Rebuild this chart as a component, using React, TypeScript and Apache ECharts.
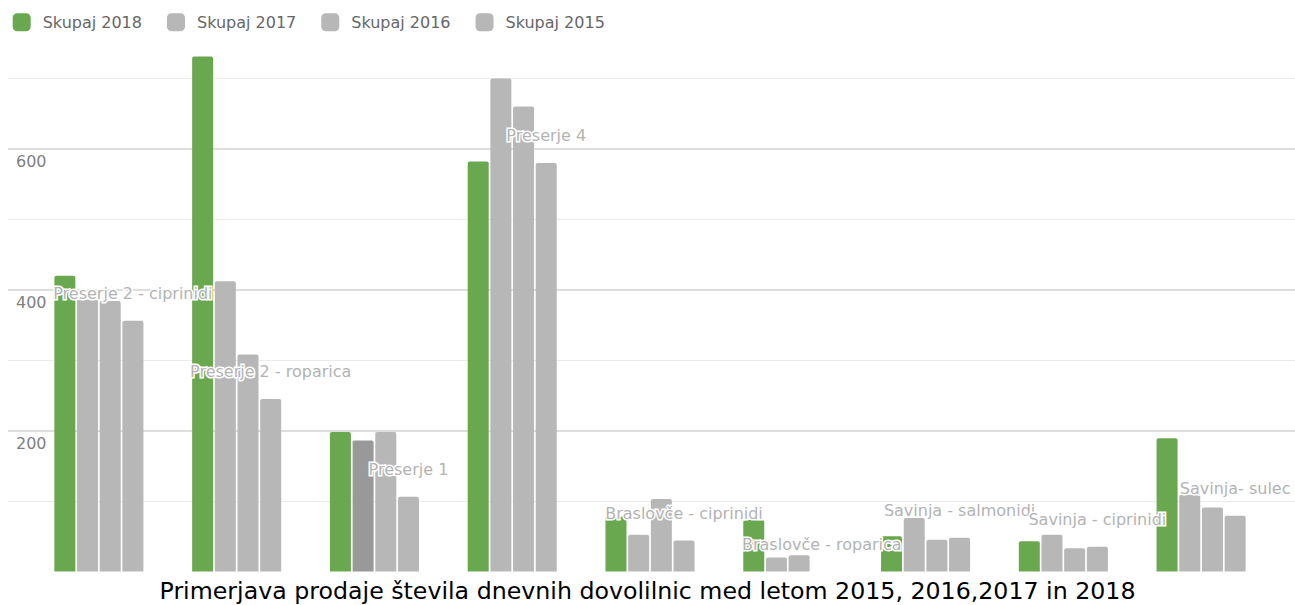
import React, { useEffect, useRef } from "react";
import * as echarts from "echarts";

const categories = [
  "Preserje 2 - ciprinidi",
  "Preserje 2 - roparica",
  "Preserje 1",
  "Preserje 4",
  "Braslovče - ciprinidi",
  "Braslovče - roparica",
  "Savinja - salmonidi",
  "Savinja - ciprinidi",
  "Savinja- sulec",
];
const seriesNames = ["Skupaj 2018", "Skupaj 2017", "Skupaj 2016", "Skupaj 2015"];
const s2018 = [420, 731, 198, 582, 78, 73, 50, 43, 189];
const s2017 = [386, 412, 186, 700, 52, 20, 76, 52, 109];
const s2016 = [384, 308, 198, 660, 103, 23, 45, 33, 91];
const s2015 = [356, 245, 106, 580, 44, 0, 48, 35, 79];
const yTickLabels = [200, 400, 600];
const chartTitle =
  "Primerjava prodaje števila dnevnih dovolilnic med letom 2015, 2016,2017 in 2018";

const FONT = "DejaVu Sans";
const GREEN = "#6aa84f";
const GRAY = "#b7b7b7";
const HOVER_GRAY = "#999999";
const highlighted = { series: 1, index: 2 };

export default function App() {
  const ref = useRef<HTMLDivElement>(null);
  useEffect(() => {
    if (!ref.current) return;
    const chart = echarts.init(ref.current, undefined, { renderer: "svg" });
    const values = [s2018, s2017, s2016, s2015];
    const colors = [GREEN, GRAY, GRAY, GRAY];
    const top = 8;
    const bottom = 33.5;
    const series: any[] = values.map((vals, si) => ({
      name: seriesNames[si],
      type: "bar",
      xAxisIndex: 1,
      yAxisIndex: 2,
      barWidth: 21,
      barGap: "8%",
      itemStyle: { color: colors[si], borderRadius: [2, 2, 0, 0] },
      data: vals.map((v, i) =>
        si === highlighted.series && i === highlighted.index
          ? { value: v, itemStyle: { color: HOVER_GRAY } }
          : v
      ),
      label:
        si === 3
          ? {
              show: true,
              position: "top",
              distance: 19,
              formatter: "{b}",
              fontFamily: FONT,
              fontSize: 16,
              color: "#b3b3b3",
              textBorderColor: "#ffffff",
              textBorderWidth: 3,
            }
          : { show: false },
    }));
    chart.setOption({
      animation: false,
      title: {
        text: chartTitle,
        left: "center",
        top: 579,
        padding: 0,
        textStyle: { fontFamily: FONT, fontSize: 23.7, color: "#000", fontWeight: "normal" },
      },
      legend: {
        left: 7.7,
        top: 8.3,
        itemWidth: 18,
        itemHeight: 18,
        itemGap: 25,
        icon: "roundRect",
        data: seriesNames,
        textStyle: { fontFamily: FONT, fontSize: 16, color: "#666", padding: [0, 0, 0, 7] },
      },
      grid: [
        { left: 8, right: 0, top, bottom },
        { left: 30, right: 25, top, bottom },
      ],
      xAxis: [
        { gridIndex: 0, type: "value", show: false, min: 0, max: 1 },
        {
          gridIndex: 1,
          type: "category",
          data: categories,
          axisLine: { show: false },
          axisTick: { show: false },
          axisLabel: { show: false },
        },
      ],
      yAxis: [
        {
          gridIndex: 0,
          type: "value",
          min: 0,
          max: 800,
          interval: 200,
          axisLine: { show: false },
          axisTick: { show: false },
          axisLabel: {
            inside: true,
            margin: 8,
            verticalAlign: "top",
            lineHeight: 16,
            padding: [5, 0, 0, 0],
            fontFamily: FONT,
            fontSize: 16,
            color: "#7f7f7f",
            formatter: (v: number) => (yTickLabels.includes(v) ? String(v) : ""),
          },
          splitLine: {
            lineStyle: {
              width: 2,
              color: ["transparent", "#dddddd", "#dddddd", "#dddddd", "transparent"],
            },
          },
        },
        {
          gridIndex: 0,
          type: "value",
          min: 0,
          max: 800,
          interval: 100,
          position: "left",
          axisLine: { show: false },
          axisTick: { show: false },
          axisLabel: { show: false },
          splitLine: { lineStyle: { width: 1, color: ["transparent", "#ebebeb"] } },
        },
        {
          gridIndex: 1,
          type: "value",
          min: 0,
          max: 800,
          show: false,
          splitLine: { show: false },
        },
      ],
      series,
    });
    return () => chart.dispose();
  }, []);
  return (
    <div
      ref={ref}
      style={{ position: "fixed", left: 0, top: 0, width: 1295, height: 605, background: "#fff" }}
    />
  );
}
